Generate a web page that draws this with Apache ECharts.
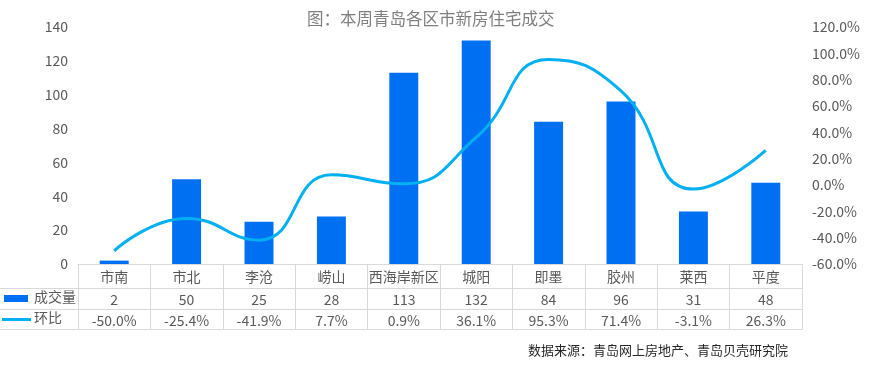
<!DOCTYPE html>
<html>
<head>
<meta charset="utf-8">
<script src="https://cdn.jsdelivr.net/npm/echarts@6/dist/echarts.min.js"></script>
<style>
html,body{margin:0;padding:0;background:#fff;}
#chart{width:870px;height:372px;}
</style>
</head>
<body>
<div id="chart"></div>
<script>
var categories = ['市南','市北','李沧','崂山','西海岸新区','城阳','即墨','胶州','莱西','平度'];
var volume = [2, 50, 25, 28, 113, 132, 84, 96, 31, 48];
var ratio = [-50.0, -25.4, -41.9, 7.7, 0.9, 36.1, 95.3, 71.4, -3.1, 26.3];
var leftTicks = {min: 0, max: 140, interval: 20};
var rightTicks = {min: -60, max: 120, interval: 20};
var seriesNames = ['成交量', '环比'];

var FONT = '"Noto Sans CJK SC", "Microsoft YaHei", sans-serif';
var TXT = '#595959';
var GRIDC = '#d9d9d9';
var BAR = '#0070f3';
var LINE = '#00b0f0';

var chart = echarts.init(document.getElementById('chart'));
function rowAxis(offset, fmt, showLabel) {
  return {
    type: 'category', data: categories, position: 'bottom', offset: offset,
    axisLine: {show: true, onZero: false, lineStyle: {color: GRIDC, width: 1}},
    axisTick: {show: false},
    axisLabel: {show: showLabel, margin: 5, color: TXT, fontSize: 14, fontFamily: FONT,
      interval: 0, formatter: fmt}
  };
}
chart.setOption({
  animation: false,
  textStyle: {fontFamily: FONT},
  title: {
    text: '图：本周青岛各区市新房住宅成交', left: 302, top: 5,
    textStyle: {fontSize: 16.5, fontWeight: 'normal', color: '#7f7f7f', fontFamily: FONT}
  },
  grid: {left: 78, right: 68, top: 27, bottom: 108, containLabel: false},
  xAxis: [
    {
      type: 'category', data: categories, position: 'bottom',
      axisLine: {show: true, onZero: false, lineStyle: {color: GRIDC, width: 1}},
      axisTick: {show: true, length: 65, lineStyle: {color: GRIDC, width: 1}},
      axisLabel: {margin: 6, color: TXT, fontSize: 14, fontFamily: FONT, interval: 0}
    },
    rowAxis(24, function (v, i) { return String(volume[i]); }, true),
    rowAxis(45, function (v, i) { return ratio[i].toFixed(1) + '%'; }, true),
    rowAxis(65, function () { return ''; }, false)
  ],
  yAxis: [
    {
      type: 'value', min: leftTicks.min, max: leftTicks.max, interval: leftTicks.interval,
      axisLine: {show: false}, axisTick: {show: false}, splitLine: {show: false},
      axisLabel: {margin: 10, color: TXT, fontSize: 14, fontFamily: FONT}
    },
    {
      type: 'value', min: rightTicks.min, max: rightTicks.max, interval: rightTicks.interval,
      position: 'right',
      axisLine: {show: false}, axisTick: {show: false}, splitLine: {show: false},
      axisLabel: {margin: 10, color: TXT, fontSize: 14, fontFamily: FONT,
        formatter: function (v) { return v.toFixed(1) + '%'; }}
    }
  ],
  series: [
    {
      name: seriesNames[0], type: 'bar', data: volume, xAxisIndex: 0, yAxisIndex: 0,
      barWidth: '40%', itemStyle: {color: BAR}
    },
    {
      name: seriesNames[1], type: 'line', data: ratio, xAxisIndex: 0, yAxisIndex: 1,
      smooth: 0.5, symbol: 'none', lineStyle: {color: LINE, width: 3}, itemStyle: {color: LINE}
    }
  ],
  graphic: [
    {type: 'line', shape: {x1: 0, y1: 288.5, x2: 78, y2: 288.5}, style: {stroke: GRIDC, lineWidth: 1}},
    {type: 'line', shape: {x1: 0, y1: 309.5, x2: 78, y2: 309.5}, style: {stroke: GRIDC, lineWidth: 1}},
    {type: 'line', shape: {x1: 0, y1: 329.5, x2: 78, y2: 329.5}, style: {stroke: GRIDC, lineWidth: 1}},
    {type: 'rect', shape: {x: 4, y: 295, width: 24, height: 7}, style: {fill: BAR}},
    {type: 'text', left: 34, top: 290,
      style: {text: seriesNames[0], fontSize: 14, fill: TXT, fontFamily: FONT}},
    {type: 'line', shape: {x1: 2, y1: 319.5, x2: 31, y2: 319.5}, style: {stroke: LINE, lineWidth: 3}},
    {type: 'text', left: 34, top: 311,
      style: {text: seriesNames[1], fontSize: 14, fill: TXT, fontFamily: FONT}},
    {type: 'text', left: 528, top: 344,
      style: {text: '数据来源：青岛网上房地产、青岛贝壳研究院', fontSize: 13, fill: '#262626', fontFamily: FONT}}
  ]
});
</script>
</body>
</html>
